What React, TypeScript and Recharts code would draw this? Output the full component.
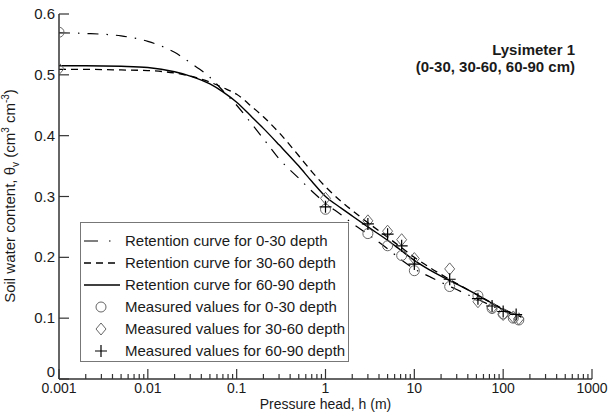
import React from 'react';
import { ComposedChart, Line, Scatter, XAxis, YAxis } from 'recharts';

// Pressure heads (m) at which the fitted retention curves were read
const curveHeads = [0.001, 0.002, 0.005, 0.01, 0.02, 0.03, 0.05, 0.07, 0.1, 0.15, 0.2, 0.3, 0.5, 0.7, 1, 1.5, 2, 3, 5, 7, 10, 15, 20, 30, 50, 70, 100, 160];
const curve0to30 = [0.569, 0.568, 0.564, 0.555, 0.537, 0.520, 0.496, 0.474, 0.450, 0.418, 0.395, 0.362, 0.330, 0.309, 0.289, 0.270, 0.256, 0.238, 0.214, 0.197, 0.181, 0.168, 0.159, 0.147, 0.132, 0.122, 0.112, 0.101];
const curve30to60 = [0.509, 0.509, 0.508, 0.507, 0.503, 0.498, 0.488, 0.479, 0.468, 0.447, 0.431, 0.405, 0.367, 0.341, 0.316, 0.292, 0.277, 0.257, 0.233, 0.217, 0.200, 0.183, 0.172, 0.157, 0.139, 0.127, 0.115, 0.102];
const curve60to90 = [0.515, 0.515, 0.514, 0.512, 0.505, 0.498, 0.485, 0.472, 0.455, 0.430, 0.412, 0.385, 0.350, 0.325, 0.300, 0.281, 0.268, 0.250, 0.228, 0.212, 0.195, 0.179, 0.169, 0.156, 0.139, 0.127, 0.114, 0.103];

// Measured values
const measHeads0to30 = [0.001, 1, 3, 5, 7.2, 10, 25, 52, 75, 100, 130, 150];
const meas0to30 = [0.570, 0.279, 0.239, 0.219, 0.203, 0.178, 0.152, 0.137, 0.116, 0.107, 0.100, 0.097];
const measHeads30to60 = [0.001, 1, 3, 5, 7.2, 10, 25, 52, 75, 100, 130, 150];
const meas30to60 = [0.510, 0.297, 0.260, 0.243, 0.229, 0.198, 0.181, 0.127, 0.117, 0.106, 0.102, 0.099];
const measHeads60to90 = [1, 3, 5, 7.2, 10, 25, 52, 75, 100, 140];
const meas60to90 = [0.283, 0.255, 0.238, 0.219, 0.189, 0.164, 0.132, 0.120, 0.111, 0.106];

// Axis ticks
const xMajorTicks = [0.001, 0.01, 0.1, 1, 10, 100, 1000];
const xTickLabels = ['0.001', '0.01', '0.1', '1', '10', '100', '1000'];
const xMinorMultipliers = [2, 3, 4, 5, 6, 7, 8, 9];
const yTicks = [0, 0.1, 0.2, 0.3, 0.4, 0.5, 0.6];
const yTickLabels = ['0', '0.1', '0.2', '0.3', '0.4', '0.5', '0.6'];

const legendLabels = [
  'Retention curve for 0-30 depth',
  'Retention curve for 30-60 depth',
  'Retention curve for 60-90 depth',
  'Measured values for 0-30 depth',
  'Measured values for 30-60 depth',
  'Measured values for 60-90 depth',
];

const pair = (hs: number[], ts: number[]) => hs.map((h, i) => ({ h, t: ts[i] }));

const xTicks: number[] = [];
xMajorTicks.forEach((d, i) => {
  xTicks.push(d);
  if (i < xMajorTicks.length - 1) xMinorMultipliers.forEach((m) => xTicks.push(m * d));
});

const FONT = '"Liberation Sans", Arial, sans-serif';
const FS = 15;
const AX = '#333';
const TXT = '#1a1a1a';

const majorIndex = (v: number) => {
  const l = Math.log10(v);
  const r = Math.round(l);
  return Math.abs(l - r) < 1e-6 ? r + 3 : -1;
};

const BottomTick = (p: any) => {
  const { x, y, payload } = p;
  const idx = majorIndex(payload.value);
  const major = idx >= 0;
  return (
    <g>
      <line x1={x} x2={x} y1={y} y2={y - (major ? 10 : 5)} stroke={AX} strokeWidth={1.2} />
      {major && (
        <text x={x} y={y + 14} textAnchor="middle" fontSize={14} fontFamily={FONT} fill={TXT}>
          {xTickLabels[idx]}
        </text>
      )}
    </g>
  );
};

const TopTick = (p: any) => {
  const { x, y, payload } = p;
  const major = majorIndex(payload.value) >= 0;
  return <line x1={x} x2={x} y1={y} y2={y + (major ? 10 : 5)} stroke={AX} strokeWidth={1.2} />;
};

const LeftTick = (p: any) => {
  const { x, y, index } = p;
  return (
    <g>
      <line x1={x} x2={x + 10} y1={y} y2={y} stroke={AX} strokeWidth={1.2} />
      <text x={x - 4} y={y + (index === 0 ? -2 : 5)} textAnchor="end" fontSize={FS} fontFamily={FONT} fill={TXT}>
        {yTickLabels[index]}
      </text>
    </g>
  );
};

const RightTick = (p: any) => {
  const { x, y } = p;
  return <line x1={x} x2={x - 10} y1={y} y2={y} stroke={AX} strokeWidth={1.2} />;
};

const CircleMark = (p: any) => <circle cx={p.cx} cy={p.cy} r={5} fill="none" stroke="#666" strokeWidth={1} />;
const DiamondMark = (p: any) => (
  <path d={`M${p.cx},${p.cy - 6}L${p.cx + 5},${p.cy}L${p.cx},${p.cy + 6}L${p.cx - 5},${p.cy}Z`} fill="none" stroke="#666" strokeWidth={1} />
);
const PlusMark = (p: any) => (
  <path d={`M${p.cx - 6},${p.cy}H${p.cx + 6}M${p.cx},${p.cy - 6}V${p.cy + 6}`} stroke="#000" strokeWidth={1.2} />
);

const DASHDOT = '11 8 1.5 8';
const DASHED = '7 5';

export default function App() {
  const rowY = [241, 263, 285, 307, 329, 351];
  return (
    <div style={{ position: 'absolute', left: 0, top: 0, width: 609, height: 412, background: '#fff' }}>
      <ComposedChart width={609} height={412} margin={{ top: 14, right: 17, bottom: 0, left: 0 }}>
        <XAxis dataKey="h" type="number" scale="log" domain={[0.001, 1000]} ticks={xTicks} interval={0}
          tickSize={0} tickMargin={0} height={33} tick={<BottomTick />} axisLine={{ stroke: AX, strokeWidth: 1.5 }} allowDataOverflow />
        <XAxis xAxisId="top" orientation="top" type="number" scale="log" domain={[0.001, 1000]} ticks={xTicks} interval={0}
          tickSize={0} tickMargin={0} height={0} tick={<TopTick />} axisLine={{ stroke: AX, strokeWidth: 1.5 }} allowDataOverflow />
        <YAxis dataKey="t" type="number" domain={[0, 0.6]} ticks={yTicks} interval={0} width={59}
          tickSize={0} tickMargin={0} tick={<LeftTick />} axisLine={{ stroke: AX, strokeWidth: 1.5 }} allowDataOverflow />
        <YAxis yAxisId="right" orientation="right" type="number" domain={[0, 0.6]} ticks={yTicks} interval={0} width={0}
          tickSize={0} tickMargin={0} tick={<RightTick />} axisLine={{ stroke: AX, strokeWidth: 1.5 }} allowDataOverflow />
        <Line data={pair(curveHeads, curve0to30)} dataKey="t" type="monotone" stroke="#000" strokeWidth={1.2}
          strokeDasharray={DASHDOT} dot={false} isAnimationActive={false} />
        <Line data={pair(curveHeads, curve30to60)} dataKey="t" type="monotone" stroke="#000" strokeWidth={1.3}
          strokeDasharray={DASHED} dot={false} isAnimationActive={false} />
        <Line data={pair(curveHeads, curve60to90)} dataKey="t" type="monotone" stroke="#000" strokeWidth={1.4}
          dot={false} isAnimationActive={false} />
        <Scatter data={pair(measHeads0to30, meas0to30)} dataKey="t" shape={<CircleMark />} isAnimationActive={false} />
        <Scatter data={pair(measHeads30to60, meas30to60)} dataKey="t" shape={<DiamondMark />} isAnimationActive={false} />
        <Scatter data={pair(measHeads60to90, meas60to90)} dataKey="t" shape={<PlusMark />} isAnimationActive={false} />
      </ComposedChart>
      <svg width={609} height={412} style={{ position: 'absolute', left: 0, top: 0, pointerEvents: 'none' }}>
        <text x={575} y={55} textAnchor="end" fontSize={FS} fontWeight="bold" fontFamily={FONT} fill={TXT}>Lysimeter 1</text>
        <text x={575} y={72} textAnchor="end" fontSize={FS} fontWeight="bold" fontFamily={FONT} fill={TXT}>(0-30, 30-60, 60-90 cm)</text>
        <text x={325.5} y={409} textAnchor="middle" fontSize={14} fontFamily={FONT} fill={TXT}>Pressure head, h (m)</text>
        <text x={15} y={196} textAnchor="middle" fontSize={FS} fontFamily={FONT} fill={TXT} transform="rotate(-90, 15, 196)">
          <tspan>Soil water content, θ</tspan>
          <tspan fontSize={10} dy={4}>v</tspan>
          <tspan dy={-4}> (cm</tspan>
          <tspan fontSize={10} dy={-6}>3</tspan>
          <tspan dy={6}> cm</tspan>
          <tspan fontSize={10} dy={-6}>-3</tspan>
          <tspan dy={6}>)</tspan>
        </text>
        <rect x={80.5} y={222.5} width={268} height={139} fill="#fff" stroke="#777" strokeWidth={1} />
        <line x1={84} x2={120} y1={rowY[0]} y2={rowY[0]} stroke="#000" strokeWidth={1.2} strokeDasharray="14 11 1.5 20" />
        <line x1={84} x2={120} y1={rowY[1]} y2={rowY[1]} stroke="#000" strokeWidth={1.3} strokeDasharray="7 5" />
        <line x1={84} x2={120} y1={rowY[2]} y2={rowY[2]} stroke="#000" strokeWidth={1.4} />
        <CircleMark cx={101} cy={rowY[3]} />
        <DiamondMark cx={101} cy={rowY[4]} />
        <PlusMark cx={101} cy={rowY[5]} />
        {legendLabels.map((l, i) => (
          <text key={l} x={125} y={rowY[i] + 5} fontSize={FS} fontFamily={FONT} fill={TXT}>{l}</text>
        ))}
      </svg>
    </div>
  );
}
